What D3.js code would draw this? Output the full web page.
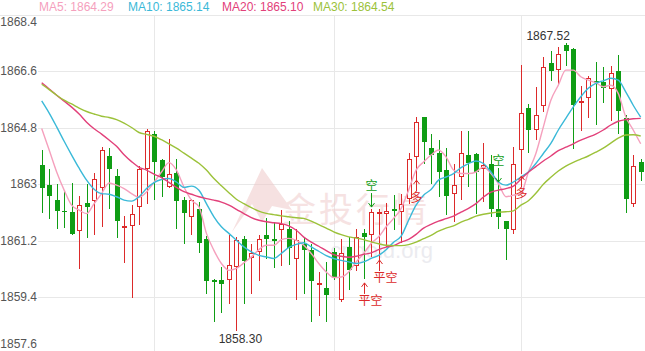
<!DOCTYPE html>
<html>
<head>
<meta charset="utf-8">
<script src="https://cdn.jsdelivr.net/npm/d3@7/dist/d3.min.js"></script>
<style>
body{margin:0;background:#fff;}
svg{display:block;font-family:"Liberation Sans",Arial,sans-serif;}
</style>
</head>
<body>
<script>
// candles, oldest first
let opens = [1863.61,1862.97,1862.49,1862.14,1862.11,1861.51,1862.39,1862.45,1862.89,1863.90,
  1863.26,1861.62,1861.68,1862.26,1863.47,1864.59,1863.77,1862.92,1863.37,1862.49,
  1861.94,1862.22,1861.24,1859.93,1859.93,1859.93,1860.36,1861.26,1860.66,1860.84,
  1861.37,1861.26,1861.53,1861.56,1860.60,1861.10,1860.89,1859.81,1859.69,1860.83,
  1859.29,1860.98,1860.39,1861.45,1861.37,1862.04,1862.06,1862.20,1862.12,1862.54,
  1863.87,1865.13,1864.14,1863.98,1863.45,1862.70,1863.24,1863.93,1863.95,1863.50,
  1863.63,1862.22,1861.82,1861.55,1864.09,1865.42,1864.73,1865.50,1866.86,1866.64,
  1867.44,1867.31,1865.62,1865.76,1866.29,1866.27,1866.03,1866.61,1865.10,1862.36,1863.71];
let highs = [1864.09,1863.47,1863.00,1862.81,1863.04,1862.63,1863.00,1863.36,1864.19,1864.17,
  1863.47,1861.98,1862.33,1863.58,1864.75,1864.69,1863.82,1864.45,1863.80,1862.60,
  1862.54,1862.44,1861.34,1859.96,1860.36,1861.37,1861.32,1861.34,1861.08,1861.39,
  1861.91,1861.80,1862.17,1861.82,1861.58,1861.30,1861.10,1860.20,1860.52,1860.95,
  1861.26,1861.32,1861.58,1861.58,1862.22,1862.22,1862.40,1862.67,1862.70,1863.98,
  1865.13,1865.15,1864.59,1864.41,1864.17,1863.66,1864.71,1864.71,1864.01,1864.33,
  1863.93,1863.13,1861.84,1864.19,1866.80,1865.56,1866.09,1867.07,1867.26,1867.39,
  1867.52,1867.34,1866.13,1866.46,1866.91,1866.75,1866.77,1867.12,1865.21,1863.93,1863.82];
let lows = [1862.08,1861.88,1861.58,1861.61,1861.38,1860.28,1861.29,1861.39,1861.64,1862.20,
  1861.29,1860.49,1859.38,1861.71,1862.38,1862.49,1862.60,1862.89,1861.58,1861.10,
  1861.39,1860.79,1859.49,1858.60,1858.89,1859.19,1858.30,1859.19,1859.49,1859.91,
  1860.60,1860.31,1860.38,1860.41,1859.29,1859.49,1858.60,1858.78,1858.60,1859.95,
  1859.25,1859.61,1860.23,1859.99,1860.68,1860.52,1861.00,1861.53,1861.11,1862.38,
  1862.92,1863.66,1863.02,1862.60,1862.01,1861.80,1862.49,1862.92,1862.06,1862.44,
  1861.96,1861.58,1860.57,1861.40,1863.34,1864.00,1864.41,1865.31,1866.30,1866.16,
  1866.78,1864.11,1864.70,1865.10,1864.89,1865.60,1865.01,1864.60,1862.09,1862.28,1863.11];
let closes = [1862.89,1862.63,1862.15,1862.11,1861.42,1862.35,1862.28,1863.15,1864.09,1863.50,
  1861.83,1861.68,1862.04,1863.47,1864.70,1863.71,1863.23,1863.31,1862.47,1862.08,
  1862.49,1861.13,1859.91,1859.88,1859.83,1860.43,1861.21,1860.55,1860.82,1861.26,
  1861.24,1861.18,1861.74,1860.95,1861.23,1860.91,1859.91,1859.85,1859.45,1860.00,
  1860.82,1860.25,1861.30,1861.30,1862.10,1862.10,1862.14,1862.15,1862.36,1863.82,
  1864.99,1864.35,1863.93,1863.40,1862.63,1862.99,1863.98,1863.68,1863.40,1863.61,
  1862.22,1861.94,1861.56,1863.66,1865.26,1864.73,1865.21,1866.73,1866.62,1867.15,
  1867.26,1865.52,1865.65,1866.38,1866.22,1866.06,1866.54,1865.34,1862.54,1863.58,1863.40];

// moving averages as shown on the chart
let ma5 = [1864.78,1864.09,1863.39,1862.81,1862.33,1862.17,1862.06,1862.38,1862.70,1863.04,
  1862.97,1862.86,1862.70,1862.58,1862.75,1863.06,1863.39,1863.69,1863.45,1862.91,
  1862.49,1862.28,1861.43,1860.89,1860.47,1860.25,1860.31,1860.49,1860.68,1860.91,
  1861.05,1861.05,1861.23,1861.27,1861.21,1861.05,1860.79,1860.47,1860.20,1860.02,
  1860.04,1860.20,1860.52,1860.79,1861.11,1861.32,1861.64,1861.91,1862.22,1862.81,
  1863.45,1863.71,1863.93,1864.09,1863.87,1863.45,1863.34,1863.34,1863.39,1863.55,
  1863.34,1863.02,1862.60,1862.65,1862.70,1863.39,1863.98,1864.83,1865.68,1866.16,
  1866.64,1866.64,1866.43,1866.32,1866.24,1866.11,1866.16,1865.90,1865.15,1864.73,1864.29];
let ma10 = [1865.66,1865.27,1864.83,1864.37,1863.93,1863.51,1863.13,1862.84,1862.70,1862.68,
  1862.60,1862.49,1862.46,1862.60,1862.86,1863.05,1863.15,1863.18,1863.07,1862.90,
  1862.94,1862.81,1862.38,1861.96,1861.64,1861.43,1861.21,1861.00,1860.84,1860.73,
  1860.68,1860.63,1860.79,1860.98,1861.08,1861.13,1861.00,1860.86,1860.72,1860.63,
  1860.57,1860.52,1860.47,1860.52,1860.63,1860.73,1860.91,1861.15,1861.34,1861.85,
  1862.33,1862.65,1862.83,1863.13,1863.23,1863.34,1863.53,1863.66,1863.74,1863.66,
  1863.39,1863.07,1862.97,1863.07,1863.23,1863.39,1863.66,1863.98,1864.30,1864.73,
  1865.10,1865.47,1865.79,1866.06,1866.22,1866.30,1866.38,1866.32,1865.95,1865.52,1865.14];
let ma20 = [1866.24,1866.04,1865.84,1865.65,1865.46,1865.24,1864.98,1864.77,1864.60,1864.41,
  1864.21,1863.94,1863.72,1863.54,1863.45,1863.32,1863.21,1863.06,1862.90,1862.76,
  1862.68,1862.60,1862.54,1862.49,1862.43,1862.33,1862.20,1862.06,1861.93,1861.85,
  1861.80,1861.77,1861.74,1861.67,1861.53,1861.31,1861.15,1861.02,1860.88,1860.75,
  1860.70,1860.67,1860.70,1860.76,1860.81,1860.91,1860.99,1861.04,1861.15,1861.24,
  1861.40,1861.60,1861.72,1861.82,1861.90,1861.98,1862.11,1862.23,1862.38,1862.59,
  1862.75,1862.81,1862.86,1862.94,1863.16,1863.38,1863.56,1863.74,1863.90,1864.07,
  1864.18,1864.29,1864.41,1864.50,1864.60,1864.73,1864.89,1865.01,1865.06,1865.09,1865.10];
let ma30 = [1866.19,1866.02,1865.84,1865.68,1865.56,1865.43,1865.32,1865.24,1865.17,1865.13,
  1865.06,1864.95,1864.81,1864.65,1864.59,1864.53,1864.42,1864.29,1864.15,1863.99,
  1863.83,1863.67,1863.45,1863.18,1862.95,1862.73,1862.52,1862.38,1862.25,1862.14,
  1862.07,1862.03,1861.99,1861.96,1861.93,1861.91,1861.82,1861.71,1861.60,1861.48,
  1861.39,1861.32,1861.28,1861.23,1861.16,1861.10,1861.05,1861.04,1861.04,1861.07,
  1861.15,1861.26,1861.37,1861.50,1861.60,1861.67,1861.79,1861.88,1861.98,1862.04,
  1862.08,1862.11,1862.12,1862.15,1862.33,1862.47,1862.71,1863.00,1863.22,1863.42,
  1863.58,1863.70,1863.80,1863.90,1864.02,1864.15,1864.31,1864.47,1864.57,1864.58,1864.54];

let maNames = ["MA5", "MA10", "MA20", "MA30"];
let yTicks = [1868.4, 1866.6, 1864.8, 1863, 1861.2, 1859.4, 1857.6];
let timeTicks = [15, 39, 64]; // candle index of the vertical grid lines

// trade signals: candle index, text, price at arrow tip
let sigIdx = [43, 44, 45, 50, 61, 64];
let sigText = ["平空", "空", "平空", "多", "空", "多"];
let sigPrice = [1859.85, 1862.27, 1860.58, 1863.13, 1863.07, 1863.26];

window.onload = function(){

let width = 645, height = 351;
let red = "#dc2a2a", green = "#0f9d14";
let maColors = ["#f5a0bd", "#3ab9d8", "#e2407a", "#9cc23a"];

let svg = d3.select("body").append("svg").attr("width", width).attr("height", height);

let x = d3.scaleLinear().domain([0, closes.length - 1]).range([41.7, 640.7]);
let y = d3.scaleLinear().domain([1857.6, 1868.4]).range([353.4, 15]);

// grid
svg.append("g").selectAll("line").data(yTicks).join("line")
    .attr("x1", 0).attr("x2", width)
    .attr("y1", d => Math.round(y(d)) + 0.5).attr("y2", d => Math.round(y(d)) + 0.5)
    .attr("stroke", "#e8e8e8");
svg.append("g").selectAll("line").data(timeTicks).join("line")
    .attr("x1", d => Math.round(x(d)) + 0.5).attr("x2", d => Math.round(x(d)) + 0.5)
    .attr("y1", y(1868.4)).attr("y2", height)
    .attr("stroke", "#e8e8e8");

// watermark
let wm = svg.append("g").attr("opacity", 0.55);
wm.append("path")
    .attr("d", "M232,232 L262,168 L292,210 L272,206 L262,222 L252,204 Z")
    .attr("fill", "#efc9c9");
wm.append("text").attr("x", 282).attr("y", 222)
    .attr("font-size", 34).attr("letter-spacing", 3)
    .attr("font-family", "'Noto Sans CJK SC'")
    .attr("fill", "#efcccc").text("金投行情");
wm.append("text").attr("x", 433).attr("y", 258).attr("text-anchor", "end")
    .attr("font-size", 22).attr("fill", "#dcdce4").text("cngold.org");

// y labels
let yl = svg.append("g");
yTicks.forEach(function(t, k){
    let yy = y(t) + 4;
    if (k == 0) yy = y(t) + 11;
    if (k == yTicks.length - 1) yy = 348;
    yl.append("rect").attr("x", 0).attr("y", yy - 10).attr("width", 38).attr("height", 13).attr("fill", "#fff");
    yl.append("text").attr("x", 37).attr("y", yy).attr("text-anchor", "end")
        .attr("font-size", 12).attr("fill", "#555").text(t);
});

// candles
let cg = svg.append("g").attr("shape-rendering", "crispEdges");
closes.forEach(function(c, i){
    let o = opens[i], up = c >= o;
    let cx = Math.round(x(i));
    let col = up ? red : green;
    let top = Math.round(y(Math.max(o, c))), bot = Math.round(y(Math.min(o, c)));
    cg.append("line").attr("x1", cx + 0.5).attr("x2", cx + 0.5)
        .attr("y1", y(highs[i])).attr("y2", y(lows[i]))
        .attr("stroke", col);
    if (up) {
        cg.append("rect").attr("x", cx - 1.5).attr("y", top + 0.5)
            .attr("width", 4).attr("height", Math.max(bot - top - 1, 1))
            .attr("fill", "#fff").attr("stroke", col);
    } else {
        cg.append("rect").attr("x", cx - 2).attr("y", top)
            .attr("width", 5).attr("height", Math.max(bot - top, 1))
            .attr("fill", col);
    }
});

// moving averages
let line = d3.line().x((d, i) => x(i)).y(d => y(d)).curve(d3.curveMonotoneX);
[ma5, ma10, ma20, ma30].forEach(function(s, k){
    svg.append("path").datum(s).attr("d", line)
        .attr("fill", "none").attr("stroke", maColors[k]).attr("stroke-width", 1.4);
});

// signals
let sg = svg.append("g").attr("font-family", "'Noto Sans CJK SC'").attr("font-size", 12);
sigIdx.forEach(function(i, k){
    let cx = Math.round(x(i)) + 0.5;
    let tip = y(sigPrice[k]);
    let col = sigText[k] == "空" ? green : red;
    if (sigText[k] == "空") {
        sg.append("path").attr("d", "M" + cx + "," + (tip - 14) + "V" + tip + "M" + (cx - 3) + "," + (tip - 4) + "L" + cx + "," + tip + "L" + (cx + 3) + "," + (tip - 4))
            .attr("fill", "none").attr("stroke", col);
        sg.append("text").attr("x", cx - 6).attr("y", tip - 17).attr("fill", col).text(sigText[k]);
    } else {
        sg.append("path").attr("d", "M" + cx + "," + (tip + 11) + "V" + tip + "M" + (cx - 3) + "," + (tip + 4) + "L" + cx + "," + tip + "L" + (cx + 3) + "," + (tip + 4))
            .attr("fill", "none").attr("stroke", col);
        sg.append("text").attr("x", cx - 6).attr("y", tip + 22).attr("fill", col).text(sigText[k]);
    }
});

// high / low labels
let hi = d3.maxIndex(highs), lo = d3.minIndex(lows);
svg.append("text").attr("x", x(hi) + 4).attr("y", y(highs[hi]) - 3).attr("text-anchor", "end")
    .attr("font-size", 12).attr("fill", "#333").text(highs[hi].toFixed(2));
svg.append("text").attr("x", x(lo) + 4).attr("y", y(lows[lo]) + 12).attr("text-anchor", "middle")
    .attr("font-size", 12).attr("fill", "#333").text(lows[lo].toFixed(2));

// legend
let lx = [39, 128, 222, 313];
[ma5, ma10, ma20, ma30].forEach(function(s, k){
    svg.append("text").attr("x", lx[k]).attr("y", 11).attr("font-size", 12)
        .attr("fill", maColors[k]).text(maNames[k] + ": " + s[s.length - 1].toFixed(2));
});

};
</script>
</body>
</html>
